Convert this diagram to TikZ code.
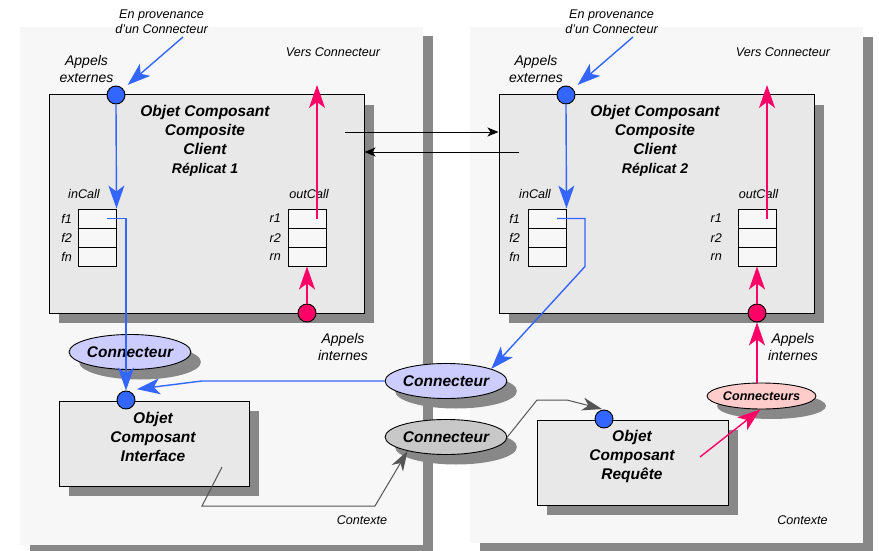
\documentclass[tikz,border=0pt]{standalone}
\usepackage{fontspec}
\setmainfont{Liberation Sans}
\usetikzlibrary{arrows.meta,shapes.geometric,shadows}
\definecolor{cblue}{HTML}{3366FF}
\definecolor{cpink}{HTML}{FF0066}
\definecolor{clav}{HTML}{CCCCFF}
\definecolor{clpink}{HTML}{FFCCCC}
\definecolor{cgreyell}{HTML}{C8C8C8}
\definecolor{cpanel}{HTML}{F7F7F7}
\definecolor{cbox}{HTML}{E8E8E8}
\definecolor{cshadow}{HTML}{888888}
\definecolor{cdark}{HTML}{555555}
\tikzset{
  myshadow/.style={drop shadow={shadow xshift=10pt,shadow yshift=-10pt,fill=cshadow,opacity=1}},
  bigbox/.style={draw=black,line width=1pt,fill=cbox,myshadow,inner sep=0pt},
  cell/.style={draw=black,line width=1pt,fill=cpanel,minimum width=38pt,minimum height=19pt,inner sep=0pt},
  title/.style={align=center,font=\fontsize{15.5}{19}\selectfont\bfseries\itshape,inner sep=0pt},
  lab/.style={align=center,font=\fontsize{12.6}{15}\selectfont\itshape,inner sep=0pt},
  labbig/.style={align=center,font=\fontsize{14}{17}\selectfont\itshape,inner sep=0pt},
  bcirc/.style={circle,draw=black,line width=0.9pt,fill=cblue,minimum size=18pt,inner sep=0pt},
  rcirc/.style={circle,draw=black,line width=0.9pt,fill=cpink,minimum size=18pt,inner sep=0pt},
  conn/.style={ellipse,draw=black,line width=0.9pt,minimum width=104pt,minimum height=35pt,inner sep=0pt,
    font=\fontsize{15.5}{18}\selectfont\bfseries\itshape,drop shadow={shadow xshift=10pt,shadow yshift=-10pt,fill=cshadow,opacity=1}},
  bigtip/.style={-{Stealth[length=23pt,width=16pt,inset=6pt]}},
  barrow/.style={draw=cblue,line width=1.4pt,bigtip},
  rarrow/.style={draw=cpink,line width=1.4pt,bigtip},
  garrow/.style={draw=cdark,line width=1pt,-{Stealth[length=20pt,width=13pt,inset=6pt]}},
  karrow/.style={draw=black,line width=1pt,-{Stealth[length=11pt,width=9pt,inset=3pt]}},
}
\begin{document}
\begin{tikzpicture}[x=1pt,y=-1pt]
\useasboundingbox (0,0) rectangle (879,551);
% panels
\fill[cshadow] (30,36) rectangle (433,556);
\fill[cpanel] (20,27) rectangle (423,545);
\fill[cshadow] (480,37) rectangle (873,556);
\fill[cpanel] (470,27) rectangle (863,543);

% big boxes
\node[bigbox,minimum width=315pt,minimum height=218pt] (cc1) at (206.5,204) {};
\node[bigbox,minimum width=315pt,minimum height=218pt] (cc2) at (656.5,204) {};
\node[title] (t1) at (205,140.5) {Objet Composant\\Composite\\Client\\{\fontsize{14}{19}\selectfont Réplicat 1}};
\node[title] (t2) at (655,140.5) {Objet Composant\\Composite\\Client\\{\fontsize{14}{19}\selectfont Réplicat 2}};

% lower boxes
\node[bigbox,minimum width=190pt,minimum height=85pt] (ci) at (154,443.5) {};
\node[title] (ti) at (153,437) {Objet\\Composant\\Interface};
\node[bigbox,minimum width=191pt,minimum height=85pt] (cr) at (632.5,462.5) {};
\node[title] (tr) at (632,456) {Objet\\Composant\\Requête};

% cells left
\node[cell] (f1a) at (97,218.5) {};
\node[cell] (f2a) at (97,237.5) {};
\node[cell] (fna) at (97,256.5) {};
\node[cell] (r1a) at (307.5,218.5) {};
\node[cell] (r2a) at (307.5,237.5) {};
\node[cell] (rna) at (307.5,256.5) {};
% cells right
\node[cell] (f1b) at (547,218.5) {};
\node[cell] (f2b) at (547,237.5) {};
\node[cell] (fnb) at (547,256.5) {};
\node[cell] (r1b) at (757.5,218.5) {};
\node[cell] (r2b) at (757.5,237.5) {};
\node[cell] (rnb) at (757.5,256.5) {};

% cell labels
\node[lab,anchor=east] (lf1a) at (72,218.5) {f1};
\node[lab,anchor=east] (lf2a) at (72,238) {f2};
\node[lab,anchor=east] (lfna) at (72,257) {fn};
\node[lab,anchor=east] (lr1a) at (281,218.5) {r1};
\node[lab,anchor=east] (lr2a) at (281,238) {r2};
\node[lab,anchor=east] (lrna) at (281,257) {rn};
\node[lab,anchor=east] (lf1b) at (520,218.5) {f1};
\node[lab,anchor=east] (lf2b) at (520,238) {f2};
\node[lab,anchor=east] (lfnb) at (520,257) {fn};
\node[lab,anchor=east] (lr1b) at (722,218.5) {r1};
\node[lab,anchor=east] (lr2b) at (722,238) {r2};
\node[lab,anchor=east] (lrnb) at (722,257) {rn};
\node[lab] (inc1) at (84,194) {inCall};
\node[lab] (outc1) at (309,194) {outCall};
\node[lab] (inc2) at (535,194) {inCall};
\node[lab] (outc2) at (758.5,194) {outCall};

% other labels
\node[lab] (prov1) at (161.5,21.5) {En provenance\\d’un Connecteur};
\node[lab] (prov2) at (611.5,21.5) {En provenance\\d’un Connecteur};
\node[lab] (vers1) at (333,52) {Vers Connecteur};
\node[lab] (vers2) at (783,52) {Vers Connecteur};
\node[labbig] (ext1) at (86.5,68.5) {Appels\\externes};
\node[labbig] (ext2) at (536,68.5) {Appels\\externes};
\node[labbig] (int1) at (343,346.5) {Appels\\internes};
\node[labbig] (int2) at (793,346.5) {Appels\\internes};
\node[lab] (ctx1) at (362,520) {Contexte};
\node[lab] (ctx2) at (802.5,520) {Contexte};

% connecteurs
\node[conn,fill=clav] (cl) at (130,352) {Connecteur};
\node[conn,fill=clav] (cm) at (446,381) {Connecteur};
\node[conn,fill=cgreyell] (cg) at (446,437) {Connecteur};
\node[conn,fill=clpink,minimum width=85pt,minimum height=26pt,font=\fontsize{12.6}{14}\selectfont\bfseries\itshape] (ck) at (761.5,396) {Connecteurs};

% circles
\node[bcirc] (in1) at (116,95) {};
\node[bcirc] (in2) at (566,95) {};
\node[rcirc] (rc1) at (307,313) {};
\node[rcirc] (rc2) at (757,313) {};
\node[bcirc] (cip) at (126,400) {};
\node[bcirc] (crp) at (604,419) {};

% free ends
\coordinate (src1) at (183,37);
\coordinate (src2) at (633,37);
\coordinate (a1) at (345,132);
\coordinate (a2) at (519,152);
\coordinate (gs) at (222,467);
\coordinate (ps) at (700,457);
\coordinate (vc1) at (317,85);
\coordinate (vc2) at (767,85);

% blue
\draw[barrow,shorten >=6pt] (src1) -- (in1);
\draw[barrow,shorten >=6pt] (src2) -- (in2);
\draw[barrow] (in1.south) -- (f1a.north east);
\draw[barrow] (in2.south) -- (f1b.north east);
\draw[barrow] ([xshift=10pt]f1a.center) -| (cip.north);
\draw[barrow,shorten >=11pt] (cm.west) -- ++(-183,0) -- (cip.north);
\draw[barrow] ([xshift=10pt]f1b.center) -- ++(28,0) -- ++(0,48) -- (cm.15);

% red
\draw[rarrow] (rc1.north) -- (rc1.north |- rna.south);
\draw[rarrow] (rc2.north) -- (rc2.north |- rnb.south);
\draw[rarrow] (vc1 |- r1a.center) -- (vc1);
\draw[rarrow] (vc2 |- r1b.center) -- (vc2);
\draw[rarrow] (rc2 |- ck.north) -- (rc2.south);
\draw[rarrow] (ps) -- (ck.265);

% grey
\draw[garrow] (gs) -- (202,506) -- (375,506) -- (cg.200);
\draw[garrow,shorten >=2pt] (cg.east) -- (537,400) -- (567,400) -- (crp.north);

% black
\draw[karrow] (a1) -- (a1 -| cc2.west);
\draw[karrow] (a2) -- (a2 -| cc1.east);
\end{tikzpicture}
\end{document}
